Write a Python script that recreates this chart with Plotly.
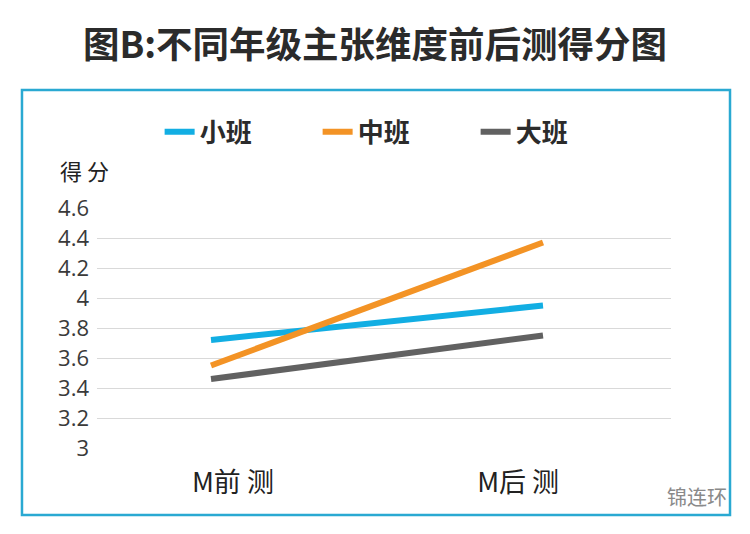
import plotly.graph_objects as go

# data
stages = ["M前 测", "M后 测"]
stage_x = [0, 1]
stage_tick_pos = [0.066, 0.925]
class_names = ["小班", "中班", "大班"]
small_class = [3.72, 3.95]
middle_class = [3.55, 4.37]
big_class = [3.46, 3.75]
y_ticks = [3, 3.2, 3.4, 3.6, 3.8, 4, 4.2, 4.4, 4.6]
y_tick_text = ["3", "3.2", "3.4", "3.6", "3.8", "4", "4.2", "4.4", "4.6"]

colors = ["#12aee3", "#f39325", "#616161"]
CJK = "Noto Sans CJK SC"

fig = go.Figure()
for name, vals, col in zip(class_names, [small_class, middle_class, big_class], colors):
    fig.add_trace(go.Scatter(x=stage_x, y=vals, name=name, mode="lines",
                             line=dict(color=col, width=6)))

# page body has an 8px margin, so the figure is 16px smaller than the window
fig.update_layout(
    width=734, height=518,
    margin=dict(l=89, r=71, t=200, b=78),
    paper_bgcolor="white", plot_bgcolor="white",
    font=dict(family=CJK, color="#333"),
    title=dict(text="图B:不同年级主张维度前后测得分图", x=0.5, xanchor="center",
               y=0.9286, yanchor="middle",
               font=dict(size=36.5, family=CJK, weight="bold", color="#2b2b2b")),
    legend=dict(orientation="h", x=0.522, xanchor="center", y=1.317, yanchor="middle",
                font=dict(size=26, family=CJK, weight="bold", color="#2b2b2b"),
                entrywidth=113, entrywidthmode="pixels", bgcolor="rgba(0,0,0,0)"),
    showlegend=True,
)

fig.update_xaxes(range=[-0.3434, 1.3855], tickvals=stage_tick_pos, ticktext=stages,
                 showgrid=False, zeroline=False, showline=False, ticks="",
                 tickfont=dict(size=27, family=CJK, color="#222"),
                 ticklabelstandoff=16)
fig.update_yaxes(range=[3, 4.6], tickvals=y_ticks, ticktext=y_tick_text,
                 showgrid=True, gridcolor="#d9d9d9", gridwidth=1.2,
                 zeroline=False, showline=False, ticks="",
                 tickfont=dict(size=22, family="Open Sans", color="#3a3a3a"),
                 ticklabelstandoff=7)

# blue frame around the chart
fig.add_shape(type="rect", xref="paper", yref="paper",
              x0=-0.1307, x1=1.1028, y0=-0.279, y1=1.4917,
              line=dict(color="#2aa9d2", width=2.5), layer="below")

fig.add_annotation(text="得 分", xref="paper", yref="paper", x=-0.068, y=1.158,
                   xanchor="left", yanchor="middle", showarrow=False,
                   font=dict(size=22, family=CJK, color="#222"))
fig.add_annotation(text="锦连环", xref="paper", yref="paper", x=1.045, y=-0.204,
                   xanchor="center", yanchor="middle", showarrow=False,
                   font=dict(size=20, family=CJK, color="#8a8a8a"))

fig.write_html("out.html")
